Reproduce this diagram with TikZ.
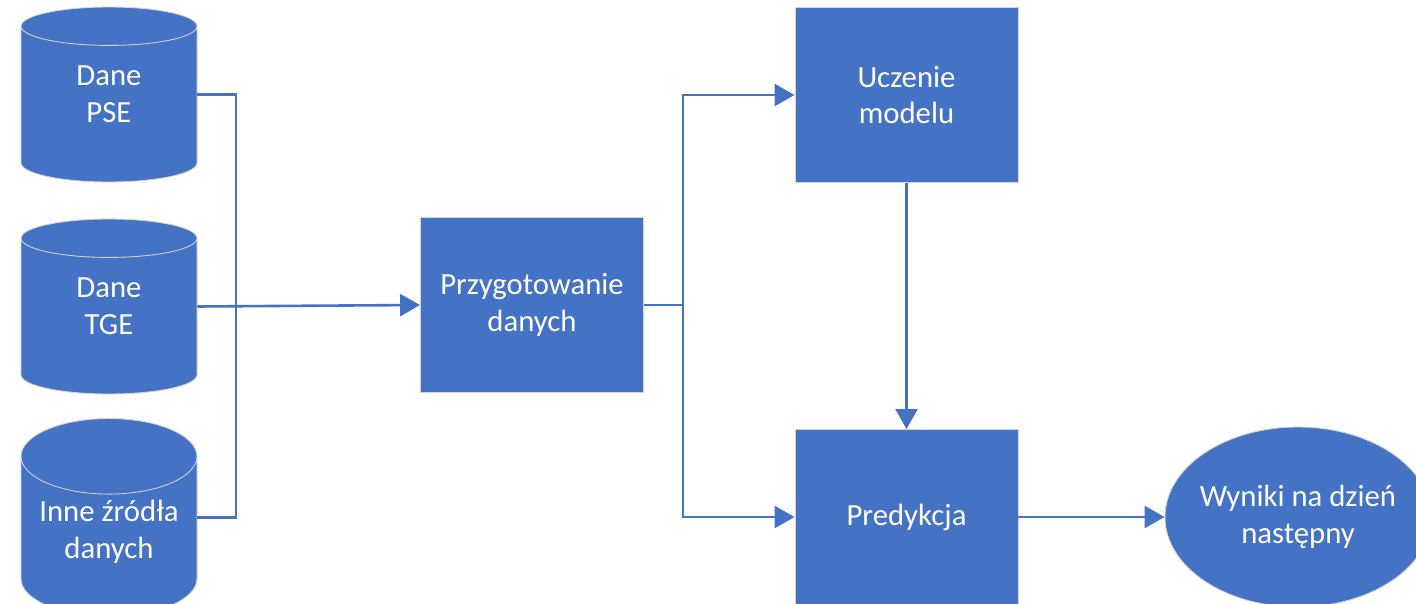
\documentclass[tikz,border=0pt]{standalone}
\usepackage{fontspec}
\setmainfont{Carlito}
\usetikzlibrary{positioning,shapes.geometric,arrows.meta}

\begin{document}
\begin{tikzpicture}
    \def\myunit{0.2mm}
    \definecolor{colbox}{HTML}{4472c4}
    \definecolor{coledge}{HTML}{d4d4d4}
    \tikzstyle{txt}=[text=white,align=center,font=\fontsize{17.5}{21}\selectfont]
    \tikzstyle{src}=[txt,cylinder,shape border rotate=90,aspect=0.5,fill=colbox,draw=coledge,
                     line width=0.5pt,minimum width=176*\myunit,minimum height=175*\myunit,
                     anchor=shape center,text height=58*\myunit,text depth=28*\myunit]
    \tikzstyle{stage}=[txt,rectangle,fill=colbox,draw=coledge,line width=0.5pt,
                       minimum width=223*\myunit,minimum height=175*\myunit]
    \tikzstyle{result}=[txt,ellipse,fill=colbox,draw=coledge,line width=0.5pt,
                        minimum width=266*\myunit,minimum height=180*\myunit,
                        inner xsep=-6*\myunit,inner ysep=0pt]
    \tikzstyle{flow}=[colbox,line width=2.6*\myunit,-{Triangle[length=20*\myunit,width=22*\myunit]}]
    \tikzstyle{link}=[colbox,line width=2.6*\myunit]
    % canvas
    \useasboundingbox (0,0) rectangle (1416*\myunit,-604*\myunit);
    \clip (0,0) rectangle (1416*\myunit,-604*\myunit);
    \fill[white] (0,0) rectangle (1416*\myunit,-604*\myunit);
    % data sources
    \node[src] (pse)  at (109*\myunit,-94.5*\myunit) {Dane\\PSE};
    \node[src] (tge)  at (109*\myunit,-306.5*\myunit) {Dane\\TGE};
    \node[src] (inne) at (109*\myunit,-517.5*\myunit) {Inne źródła\\danych};
    % stages
    \node[stage] (prep) at (532*\myunit,-305*\myunit) {Przygotowanie\\danych};
    \node[stage] (train) at (906.5*\myunit,-95*\myunit) {Uczenie\\modelu};
    \node[stage] (pred) at (906.5*\myunit,-517*\myunit) {Predykcja};
    \node[result] (out) at (1298*\myunit,-517*\myunit) {Wyniki na dzień\\następny};
    % junctions
    \coordinate (jin) at (236*\myunit,-306.5*\myunit);
    \coordinate (jout) at (683*\myunit,-305*\myunit);
    % connectors
    \draw[link] (pse.shape center -| pse.east) -| (jin);
    \draw[link] (inne.shape center -| inne.east) -| (jin);
    \draw[flow] (tge.shape center -| tge.east) -- (prep.west);
    \draw[link] (prep.east) -- (jout);
    \draw[flow] (jout) |- (train.west);
    \draw[flow] (jout) |- (pred.west);
    \draw[flow] (train.south) -- (pred.north);
    \draw[flow] (pred.east) -- (out.west);
\end{tikzpicture}
\end{document}
